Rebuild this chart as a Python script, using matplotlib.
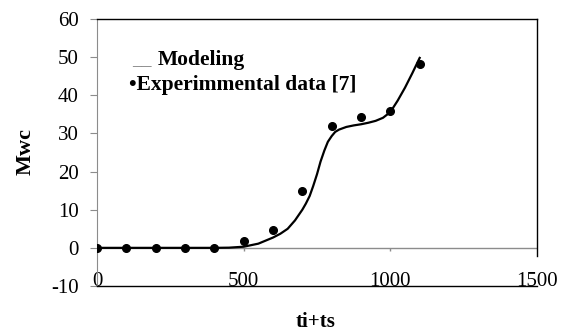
import matplotlib
matplotlib.use("Agg")
import matplotlib.pyplot as plt

# experimental points
exp_x = [0, 100, 200, 300, 400, 500, 600, 700, 800, 900, 1000, 1100]
exp_y = [0, 0, 0, 0, 0, 1.8, 4.6, 14.9, 32.0, 34.2, 36.0, 48.2]

# modeling curve
mod_x = [0, 100, 200, 300, 400, 450, 500, 550, 600, 625, 650, 675, 700, 712,
         725, 737, 750, 762, 775, 787, 800, 812, 825, 850, 875, 900, 925, 950,
         975, 1000, 1025, 1050, 1075, 1100]
mod_y = [0, 0, 0, 0, 0, 0.05, 0.3, 1.1, 2.7, 3.7, 5.0, 7.2, 10.0, 11.6,
         13.6, 16.2, 19.3, 22.6, 25.5, 27.8, 29.3, 30.4, 31.0, 31.7, 32.1, 32.4, 32.8, 33.3,
         34.1, 35.6, 38.6, 42.0, 45.8, 49.8]

xticks = [0, 500, 1000, 1500]
yticks = [-10, 0, 10, 20, 30, 40, 50, 60]

plt.rcParams['font.family'] = ['Liberation Serif', 'DejaVu Serif']
gray = "#8c8c8c"

fig = plt.figure(figsize=(5.68, 3.33), dpi=100)
ax = fig.add_axes([97/568, 1-286/333, 440/568, 267/333])

ax.plot(mod_x, mod_y, color="black", lw=1.6, zorder=3)
ax.plot(exp_x, exp_y, "o", color="black", ms=5.5, zorder=4)

ax.set_xlim(0, 1500)
ax.set_ylim(-10, 60)
ax.set_xticks(xticks)
ax.set_yticks(yticks)
ax.set_yticklabels([str(v) for v in yticks])

# zero line with its small ticks
ax.axhline(0, color=gray, lw=1, zorder=1)
ax.vlines([500, 1000], -0.9, 0, color=gray, lw=1)

for s in ["top", "right", "bottom"]:
    ax.spines[s].set_color("black")
    ax.spines[s].set_linewidth(1)
ax.spines["left"].set_color(gray)
ax.spines["right"].set_bounds(-2.2, 60)

ax.tick_params(axis="y", direction="out", length=5, color=gray, pad=8, labelsize=15)
ax.tick_params(axis="x", length=0, pad=-10, labelsize=15)

fig.text(26/568, 1-152/333, "Mwc", rotation=90, fontsize=16, fontweight="bold",
         ha="center", va="center")
fig.text(316/568, 1-322/333, "ti+ts", fontsize=15, fontweight="bold",
         ha="center", va="center")

fig.text(132/568, 1-65/333, "__", fontsize=14, color=gray, fontweight="bold",
         ha="left", va="baseline")
fig.text(158/568, 1-65/333, "Modeling", fontsize=15.5, fontweight="bold",
         ha="left", va="baseline")
fig.text(129/568, 1-90/333, "\u2022Experimmental data [7]", fontsize=15.5,
         fontweight="bold", ha="left", va="baseline")

fig.savefig("out.png", dpi=100)
